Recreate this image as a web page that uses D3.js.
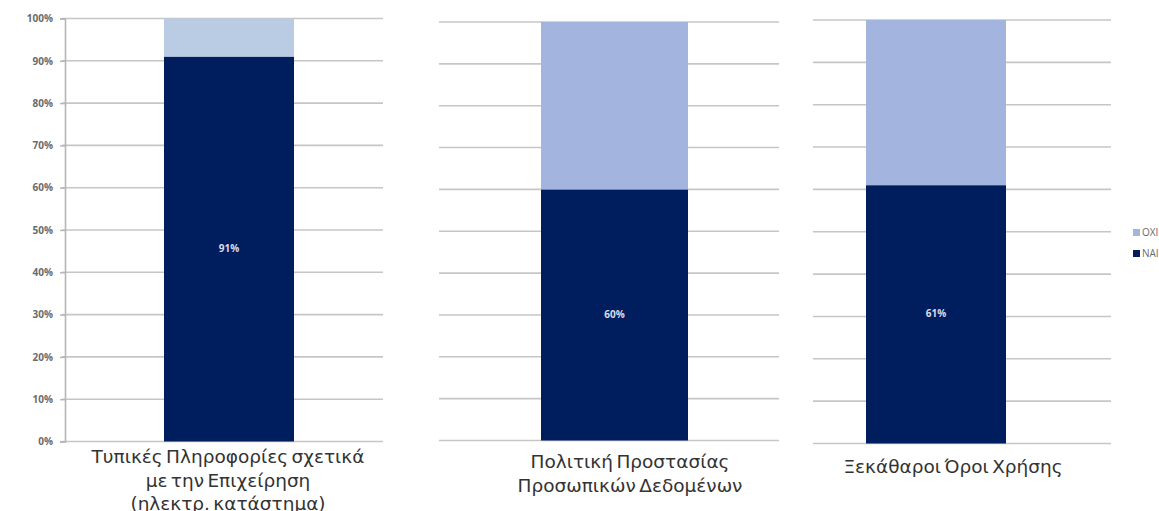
<!DOCTYPE html>
<html>
<head>
<meta charset="utf-8">
<script src="https://cdn.jsdelivr.net/npm/d3@7"></script>
<style>
  body { margin: 0; background: #fff; }
  svg { display: block; }
  text { font-family: "Open Sans", "Noto Sans", sans-serif; }
</style>
</head>
<body>
<div id="chart"></div>
<script>
// chart data
const categories = [
    "Τυπικές Πληροφορίες σχετικά\nμε την Επιχείρηση\n(ηλεκτρ. κατάστημα)",
    "Πολιτική Προστασίας\nΠροσωπικών Δεδομένων",
    "Ξεκάθαροι Όροι Χρήσης"
];
const naiValues = [91, 60, 61];
const oxiValues = [9, 40, 39];
const seriesNames = ["ΟΧΙ", "ΝΑΙ"];
const yTicks = [0, 10, 20, 30, 40, 50, 60, 70, 80, 90, 100];

function drawChart() {
    const width = 1159, height = 511;
    const svg = d3.select('#chart').append('svg')
        .attr('width', width)
        .attr('height', height);

    const naiColor = '#001e5e';
    // the first panel uses a paler blue for ΟΧΙ
    const oxiColors = ['#b9cce4', '#a3b5df', '#a3b5df'];
    const gridColor = '#c6c6c6';

    // each category sits in its own small chart
    const panels = [
        { gx0: 62, gx1: 383, top: 18.5, bottom: 441.5, bx0: 164, bx1: 294, axis: true,
          labelX: 228, labelY: 463, lineH: 23.5 },
        { gx0: 439, gx1: 779, top: 22, bottom: 440.5, bx0: 541, bx1: 688, axis: false,
          labelX: 630, labelY: 468, lineH: 23.5 },
        { gx0: 813, gx1: 1111, top: 20, bottom: 443.5, bx0: 866, bx1: 1006, axis: false,
          labelX: 953, labelY: 473, lineH: 23.5 }
    ];

    panels.forEach((p, i) => {
        const g = svg.append('g');
        const y = d3.scaleLinear().domain([0, 100]).range([p.bottom, p.top]);
        const x = d3.scaleBand().domain([categories[i]]).range([p.bx0, p.bx1]).padding(0);

        // gridlines
        g.selectAll('line.grid')
            .data(yTicks)
            .enter().append('line')
            .attr('class', 'grid')
            .attr('x1', p.gx0)
            .attr('x2', p.gx1)
            .attr('y1', d => y(d))
            .attr('y2', d => y(d))
            .attr('stroke', gridColor)
            .attr('stroke-width', 1.6);

        if (p.axis) {
            const axis = d3.axisLeft(y)
                .tickValues(yTicks)
                .tickSize(5)
                .tickFormat(d => d + '%');
            const ag = g.append('g')
                .attr('transform', `translate(${p.gx0 + 3},0)`)
                .call(axis);
            ag.select('.domain').attr('stroke', '#b5b5b5').attr('stroke-width', 1.6);
            ag.selectAll('.tick line').attr('stroke', '#b5b5b5').attr('stroke-width', 1.4);
            ag.selectAll('.tick text')
                .attr('x', -12)
                .attr('fill', '#6b6b6b')
                .style('font-size', '10px')
                .style('font-weight', 'bold');
        }

        const cat = categories[i];
        // ΝΑΙ segment
        g.append('rect')
            .attr('x', x(cat))
            .attr('width', x.bandwidth())
            .attr('y', y(naiValues[i]))
            .attr('height', y(0) - y(naiValues[i]))
            .attr('fill', naiColor);
        // ΟΧΙ segment stacked on top
        g.append('rect')
            .attr('x', x(cat))
            .attr('width', x.bandwidth())
            .attr('y', y(naiValues[i] + oxiValues[i]))
            .attr('height', y(naiValues[i]) - y(naiValues[i] + oxiValues[i]))
            .attr('fill', oxiColors[i]);

        // value label
        g.append('text')
            .attr('x', x(cat) + x.bandwidth() / 2)
            .attr('y', y(naiValues[i] / 2) + 3)
            .attr('text-anchor', 'middle')
            .attr('fill', '#d8dcec')
            .style('font-size', '10px')
            .style('font-weight', 'bold')
            .text(naiValues[i] + '%');

        // category label, several lines
        const lines = cat.split('\n');
        const t = g.append('text')
            .attr('text-anchor', 'middle')
            .attr('fill', '#333')
            .style('font-family', '"DejaVu Sans", sans-serif')
            .style('font-size', '18.5px')
            .style('word-spacing', '-2.5px');
        lines.forEach((ln, j) => {
            t.append('tspan')
                .attr('x', p.labelX)
                .attr('y', p.labelY + j * p.lineH)
                .text(ln);
        });
    });

    // legend at the right edge (clipped by the window)
    const legend = svg.append('g').attr('transform', 'translate(1133, 229)');
    const legendColors = [oxiColors[1], naiColor];
    seriesNames.forEach((name, i) => {
        legend.append('rect')
            .attr('x', 0)
            .attr('y', i * 21)
            .attr('width', 7)
            .attr('height', 7)
            .attr('fill', legendColors[i]);
        legend.append('text')
            .attr('x', 9)
            .attr('y', i * 21 + 7)
            .attr('fill', '#6b6b6b')
            .style('font-size', '10px')
            .text(name);
    });
}
drawChart();
</script>
</body>
</html>
